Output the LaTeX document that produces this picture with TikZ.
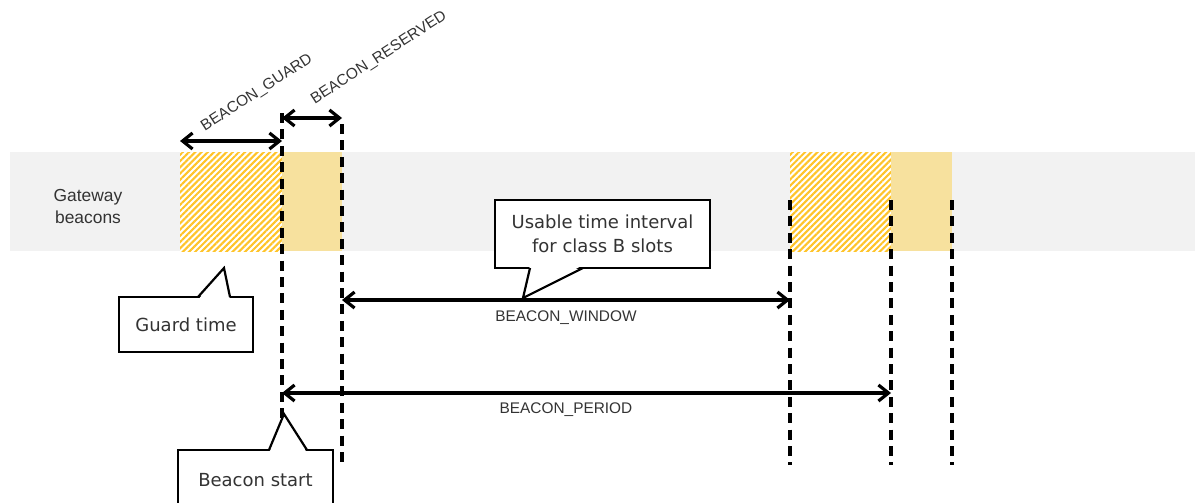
\documentclass[tikz,border=0pt]{standalone}
\usepackage{fontspec}
\setmainfont{Liberation Sans}
\newfontfamily\calloutfont{DejaVu Sans}
\usetikzlibrary{arrows.meta,patterns.meta,calc}

\definecolor{bandgray}{HTML}{F2F2F2}
\definecolor{hatchyellow}{HTML}{FFC429}
\definecolor{slotgold}{HTML}{F7E19E}
\definecolor{labelgray}{HTML}{333333}

\tikzset{
  beaconline/.style={line width=1.9pt, dash pattern=on 5pt off 3.2pt},
  interval/.style={line width=1.6pt, {Straight Barb[length=5pt,width=8pt]}-{Straight Barb[length=5pt,width=8pt]}},
  guardslot/.style={preaction={fill=white}, pattern={Lines[angle=45,distance=2.2pt,line width=1.05pt]}, pattern color=hatchyellow},
  reservedslot/.style={fill=slotgold},
  intlabel/.style={font=\fontsize{7.7}{9}\selectfont, text=labelgray},
  note/.style={draw, fill=white, line width=1.1pt, inner sep=0pt, outer sep=0pt, align=center,
    font=\calloutfont\fontsize{9}{12}\selectfont, text=labelgray},
  noteline/.style={line width=1.1pt, line join=miter},
}

\begin{document}
\begin{tikzpicture}[x=0.5pt,y=-0.5pt]
    \useasboundingbox (0,0) rectangle (1195,503);
    \clip (0,0) rectangle (1195,503); % page edge cuts the last callout

    % gateway beacon band
    \coordinate (top) at (0,152);
    \coordinate (bot) at (0,251);
    \fill[bandgray] (10,152) rectangle (1195,251);
    \node[intlabel, font=\fontsize{8.7}{11}\selectfont, align=center] (gw) at (88,207) {Gateway\\beacons};

    % time marks
    \coordinate (t0) at (180,0);
    \coordinate (t1) at (282,0);
    \coordinate (t2) at (342,0);
    \coordinate (t3) at (790,0);
    \coordinate (t4) at (891,0);
    \coordinate (t5) at (952,0);

    \path[guardslot] (t0 |- top) rectangle (t1 |- bot);
    \path[reservedslot] (t1 |- top) rectangle (t2 |- bot);
    \path[guardslot] (t3 |- top) rectangle (t4 |- bot);
    \path[reservedslot] (t4 |- top) rectangle (t5 |- bot);

    % dashed beacon lines
    \draw[beaconline] (t1 |- 0,113) -- (t1 |- 0,462);
    \draw[beaconline] (t2 |- 0,124) -- (t2 |- 0,462);
    \foreach \t in {t3,t4,t5}{
      \draw[beaconline] (\t |- 0,200) -- (\t |- 0,465);
    }

    % intervals
    \draw[interval] (t0 |- 0,141) -- (t1 |- 0,141);
    \draw[interval] (t1 |- 0,118) -- (t2 |- 0,118);
    \draw[interval] (t2 |- 0,300) -- (t3 |- 0,300);
    \draw[interval] (t1 |- 0,393) -- (t4 |- 0,393);

    \node[intlabel, rotate=33] (lguard) at (257,93) {BEACON\_GUARD};
    \node[intlabel, rotate=33] (lres) at (379,58) {BEACON\_RESERVED};
    \node[intlabel] (lwin) at (566,318) {BEACON\_WINDOW};
    \node[intlabel] (lper) at (566,410) {BEACON\_PERIOD};

    % callouts
    \coordinate (winpt) at (523,298);
    \coordinate (guardpt) at (224,268);
    \coordinate (startpt) at (284,414);

    \node[note, minimum width=107.5pt, minimum height=34pt] (usable) at (602.5,234) {Usable time interval\\for class B slots};
    \fill[white] ($(usable.south west)+(35,-3)$) -- (winpt) -- ($(usable.south west)+(88,-3)$) -- cycle;
    \draw[noteline] ($(usable.south west)+(35,0)$) -- (winpt) -- ($(usable.south west)+(88,0)$);

    \node[note, minimum width=67pt, minimum height=27.5pt] (guard) at (186,324.5) {Guard time};
    \fill[white] ($(guard.north west)+(79,3)$) -- (guardpt) -- ($(guard.north west)+(111,3)$) -- cycle;
    \draw[noteline] ($(guard.north west)+(79,0)$) -- (guardpt) -- ($(guard.north west)+(111,0)$);

    \node[note, minimum width=77.5pt, minimum height=30pt] (start) at (255.5,480) {Beacon start};
    \fill[white] ($(start.north west)+(91,3)$) -- (startpt) -- ($(start.north west)+(129,3)$) -- cycle;
    \draw[noteline] ($(start.north west)+(91,0)$) -- (startpt) -- ($(start.north west)+(129,0)$);
\end{tikzpicture}
\end{document}
